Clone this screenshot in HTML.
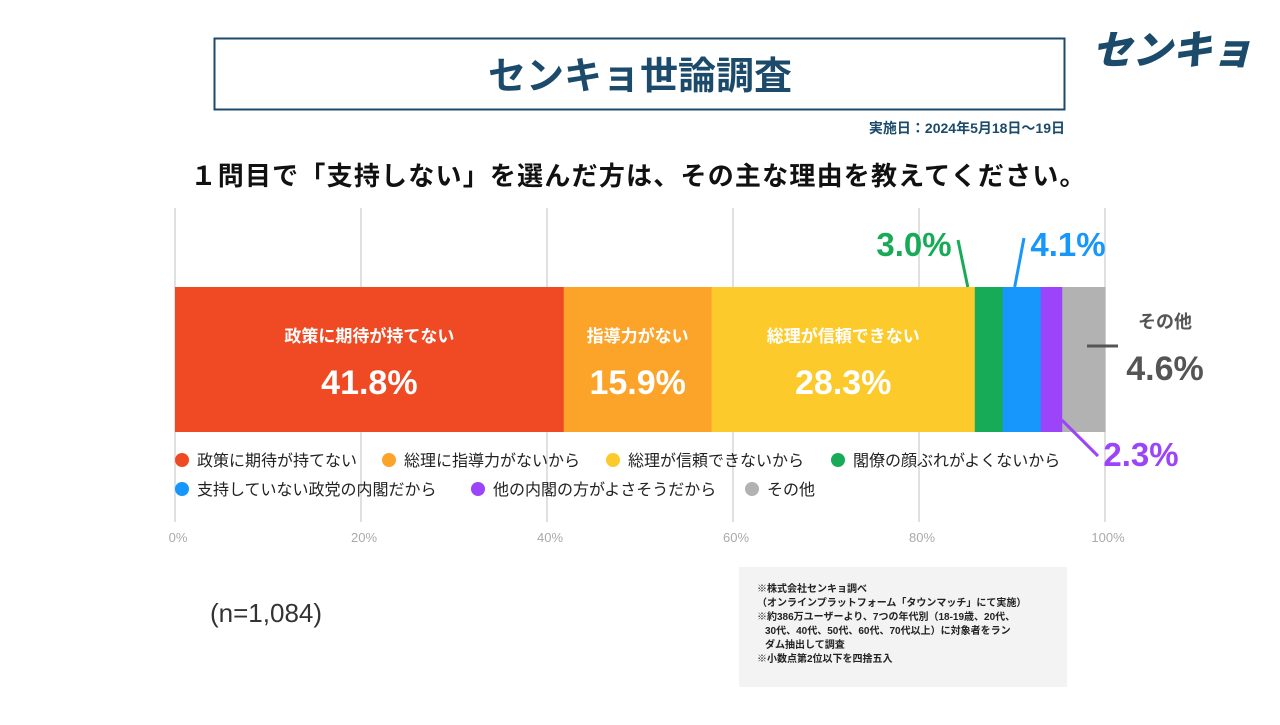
<!DOCTYPE html>
<html><head><meta charset="utf-8"><style>
body{margin:0;width:1280px;height:720px;background:#fff;overflow:hidden;font-family:"Liberation Sans","Noto Sans CJK JP",sans-serif}
</style></head><body>
<svg width="1280" height="720" xmlns="http://www.w3.org/2000/svg" style="font-family:'Liberation Sans','Noto Sans CJK JP',sans-serif">
<rect x="214.5" y="38.5" width="850" height="71" fill="#fff" stroke="#1b4a6b" stroke-width="2"/>
<text x="640" y="89" text-anchor="middle" font-size="38" font-weight="bold" fill="#1b4a6b">センキョ世論調査</text>
<text x="1172" y="64" text-anchor="middle" font-size="40" font-weight="900" font-style="italic" fill="#1b4a6b">センキョ</text>
<text x="1065" y="133" text-anchor="end" font-size="14" font-weight="bold" fill="#1b4a6b">実施日：2024年5月18日～19日</text>
<text x="638" y="185" text-anchor="middle" font-size="26" font-weight="bold" fill="#111" textLength="895">１問目で「支持しない」を選んだ方は、その主な理由を教えてください。</text>
<g id="grid"></g>
<g id="bars"></g>
<g id="ann"></g>
<g id="legend"></g>
<text x="210" y="622" font-size="26" fill="#333">(n=1,084)</text>
<rect x="739" y="567" width="328" height="120" fill="#f3f3f3"/>
<g font-size="10" font-weight="bold" fill="#222">
<text x="757" y="592">※株式会社センキョ調べ</text>
<text x="757" y="606">（オンラインプラットフォーム「タウンマッチ」にて実施）</text>
<text x="757" y="620">※約386万ユーザーより、7つの年代別（18-19歳、20代、</text>
<text x="765" y="634">30代、40代、50代、60代、70代以上）に対象者をラン</text>
<text x="765" y="648">ダム抽出して調査</text>
<text x="757" y="662">※小数点第2位以下を四捨五入</text>
</g>
</svg>
<script>
const categories=["政策に期待が持てない","総理に指導力がないから","総理が信頼できないから","閣僚の顔ぶれがよくないから","支持していない政党の内閣だから","他の内閣の方がよさそうだから","その他"];
const values=[41.8,15.9,28.3,3.0,4.1,2.3,4.6];
const colors=["#ef4a23","#fca42a","#fdca2c","#18ab57","#1797fb","#9b44fa","#b2b2b2"];
const inLabels=["政策に期待が持てない","指導力がない","総理が信頼できない"];
const ticks=[0,20,40,60,80,100];
const NS="http://www.w3.org/2000/svg";
const x=v=>175+v*9.3;
function mk(tag,attrs,parent,txt){const e=document.createElementNS(NS,tag);for(const k in attrs)e.setAttribute(k,attrs[k]);if(txt!==undefined)e.textContent=txt;document.getElementById(parent).appendChild(e);return e;}
ticks.forEach(t=>{
 const l=mk('line',{x1:x(t),x2:x(t),y1:208,y2:522,stroke:'#d6d6d6','stroke-width':1.5},'grid');
 
 
 const tx=mk('text',{x:x(t)+3,y:542,'text-anchor':'middle','font-size':13,fill:'#aaa'},'grid',t+'%');
 
 
});
let cum=0;const mids=[];const starts=[];
values.forEach((v,i)=>{
 const r=mk('rect',{x:x(cum),y:287,width:v*9.3+0.5,height:145,fill:colors[i]},'bars');
 
 
 starts.push(x(cum));mids.push(x(cum+v/2));cum+=v;
 if(i<3){
  const a=mk('text',{x:mids[i],y:342,'text-anchor':'middle','font-size':17,'font-weight':'bold',fill:'#fff'},'bars',inLabels[i]);
  
  
  const b=mk('text',{x:mids[i],y:394,'text-anchor':'middle','font-size':34,'font-weight':'bold',fill:'#fff'},'bars',v.toFixed(1)+'%');
  
  
 }
});
const ann=[
 {i:3,tx:914,ty:256,lx1:958,ly1:240,lx2:starts[3]-7,ly2:287},
 {i:4,tx:1068,ty:256,lx1:1024,ly1:238,lx2:starts[4]+12,ly2:287},
 {i:5,tx:1141,ty:466,lx1:starts[5]+21,ly1:420,lx2:1098,ly2:456},
];
ann.forEach(a=>{
 const l=mk('line',{x1:a.lx1,y1:a.ly1,x2:a.lx2,y2:a.ly2,stroke:colors[a.i],'stroke-width':3},'ann');
 
 
 const t=mk('text',{x:a.tx,y:a.ty,'text-anchor':'middle','font-size':33,'font-weight':'bold',fill:colors[a.i]},'ann',values[a.i].toFixed(1)+'%');
 
 
});
const ol=mk('line',{x1:1087,y1:346,x2:1118,y2:346,stroke:'#555','stroke-width':3},'ann');


const ot=mk('text',{x:1165,y:328,'text-anchor':'middle','font-size':18,'font-weight':'bold',fill:'#555'},'ann','その他');


const ov=mk('text',{x:1165,y:380,'text-anchor':'middle','font-size':34,'font-weight':'bold',fill:'#555'},'ann',values[6].toFixed(1)+'%');


const legPos=[[175,460],[382,460],[606,460],[831,460],[175,489],[471,489],[745,489]];
categories.forEach((c,i)=>{
 const [lx,ly]=legPos[i];
 const d=mk('circle',{cx:lx+7,cy:ly,r:7,fill:colors[i]},'legend');
 
 
 const t=mk('text',{x:lx+22,y:ly+6,'font-size':16,fill:'#222'},'legend',c);
 
 
});
</script>
</body></html>
